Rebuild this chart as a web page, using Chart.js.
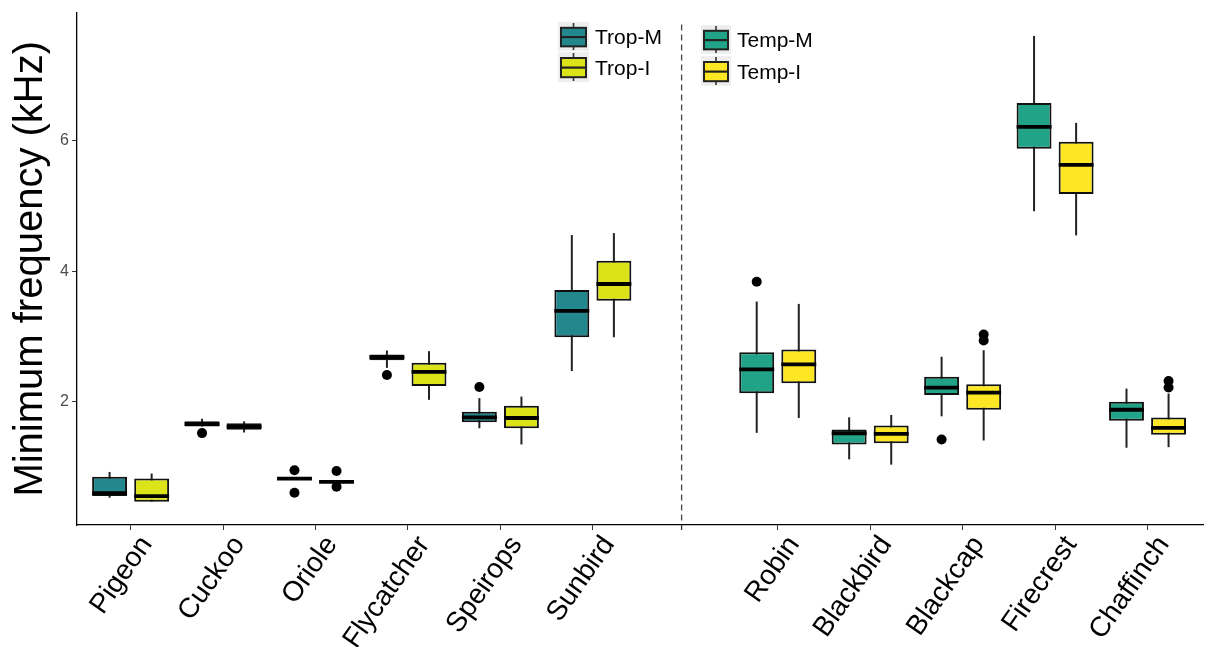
<!DOCTYPE html>
<html>
<head>
<meta charset="utf-8">
<script src="https://cdn.jsdelivr.net/npm/chart.js@4.4.0/dist/chart.umd.min.js"></script>
<style>
  html, body { margin: 0; padding: 0; background: #fff; }
  #wrap { width: 1205px; height: 647px; }
</style>
</head>
<body>
<div id="wrap"><canvas id="mychart"></canvas></div>
<script>
let species = ['Pigeon', 'Cuckoo', 'Oriole', 'Flycatcher', 'Speirops', 'Sunbird',
               'Robin', 'Blackbird', 'Blackcap', 'Firecrest', 'Chaffinch']
let xPos = [0, 1, 2, 3, 4, 5, 7, 8, 9, 10, 11]
let dividerX = 5.96
let yTicks = [2, 4, 6]

// migrant (M) boxes
let minM = [0.53, 1.62, 0.815, 2.52, 1.594, 2.471, 1.524, 1.118, 1.777, 4.92, 1.296]
let q1M  = [0.555, 1.62, 0.815, 2.638, 1.686, 2.989, 2.132, 1.346, 2.106, 5.878, 1.711]
let medM = [0.60, 1.66, 0.822, 2.684, 1.762, 3.394, 2.497, 1.518, 2.218, 6.213, 1.878]
let q3M  = [0.85, 1.70, 0.83, 2.725, 1.848, 3.714, 2.76, 1.574, 2.385, 6.578, 2.0]
let maxM = [0.925, 1.74, 0.83, 2.786, 2.056, 4.555, 3.536, 1.762, 2.69, 7.607, 2.202]
let outM = [[], [1.52], [0.95, 0.605], [2.41], [2.228], [], [3.84], [], [1.422], [], []]

// resident (I) boxes
let minI = [0.469, 1.53, 0.77, 2.03, 1.346, 2.989, 1.752, 1.037, 1.407, 4.55, 1.305]
let q1I  = [0.469, 1.57, 0.77, 2.243, 1.594, 3.547, 2.284, 1.366, 1.878, 5.183, 1.494]
let medI = [0.555, 1.62, 0.773, 2.46, 1.752, 3.805, 2.573, 1.509, 2.142, 5.63, 1.60]
let q3I  = [0.824, 1.67, 0.78, 2.598, 1.94, 4.16, 2.80, 1.635, 2.27, 5.985, 1.761]
let maxI = [0.90, 1.70, 0.78, 2.776, 2.08, 4.585, 3.50, 1.798, 2.79, 6.274, 2.126]
let outI = [[], [], [0.94, 0.697], [], [], [], [], [], [3.03, 2.94], [], [2.319, 2.218]]

let legendTrop = ['Trop-M', 'Trop-I']
let legendTemp = ['Temp-M', 'Temp-I']
let colTrop = ['#23888E', '#DCE319']
let colTemp = ['#20A387', '#FDE725']

const FONT = '"Liberation Sans", Arial, Helvetica, sans-serif'

let series = [
  { min: minM, med: medM, max: maxM, out: outM },
  { min: minI, med: medI, max: maxI, out: outI }
]

function colorsFor(k) {
  return xPos.map((x, i) => i < 6 ? colTrop[k] : colTemp[k])
}

function drawKey(ctx, x, y, w, h, fill) {
  ctx.fillStyle = '#EEEEEE'
  ctx.fillRect(x, y, w, h)
  let cx = x + w / 2
  ctx.strokeStyle = '#333'
  ctx.lineWidth = 1.6
  ctx.beginPath(); ctx.moveTo(cx, y + 1); ctx.lineTo(cx, y + h - 1); ctx.stroke()
  let bt = y + h * 0.2, bh = h * 0.64
  ctx.fillStyle = fill
  ctx.fillRect(x + 3, bt, w - 6, bh)
  ctx.strokeStyle = '#222'
  ctx.lineWidth = 2
  ctx.strokeRect(x + 3, bt, w - 6, bh)
  ctx.lineWidth = 2.2
  ctx.beginPath(); ctx.moveTo(x + 3, bt + bh / 2); ctx.lineTo(x + w - 3, bt + bh / 2); ctx.stroke()
}

const boxParts = {
  id: 'boxParts',
  beforeDatasetsDraw(chart) {
    let { ctx, chartArea, scales: { x, y } } = chart
    ctx.save()
    // dashed divider between tropical and temperate
    let xd = x.getPixelForValue(dividerX)
    ctx.strokeStyle = '#444'
    ctx.lineWidth = 1.3
    ctx.setLineDash([6, 4])
    ctx.beginPath(); ctx.moveTo(xd, chartArea.top + 12); ctx.lineTo(xd, chartArea.bottom); ctx.stroke()
    ctx.setLineDash([])
    ctx.strokeStyle = '#333'
    ctx.beginPath(); ctx.moveTo(xd, chartArea.bottom); ctx.lineTo(xd, chartArea.bottom + 5); ctx.stroke()
    // whiskers
    ctx.strokeStyle = '#222'
    ctx.lineWidth = 2
    series.forEach((s, d) => {
      chart.getDatasetMeta(d).data.forEach((bar, i) => {
        ctx.beginPath()
        ctx.moveTo(bar.x, y.getPixelForValue(s.min[i]))
        ctx.lineTo(bar.x, y.getPixelForValue(s.max[i]))
        ctx.stroke()
      })
    })
    ctx.restore()
  },
  afterDatasetsDraw(chart) {
    let { ctx, scales: { y } } = chart
    ctx.save()
    series.forEach((s, d) => {
      chart.getDatasetMeta(d).data.forEach((bar, i) => {
        let py = y.getPixelForValue(s.med[i])
        ctx.strokeStyle = '#000'
        ctx.lineWidth = 3.8
        ctx.beginPath()
        ctx.moveTo(bar.x - bar.width / 2, py)
        ctx.lineTo(bar.x + bar.width / 2, py)
        ctx.stroke()
        ctx.fillStyle = '#000'
        s.out[i].forEach(v => {
          ctx.beginPath()
          ctx.arc(bar.x, y.getPixelForValue(v), 5, 0, Math.PI * 2)
          ctx.fill()
        })
      })
    })
    ctx.restore()
  },
  afterDraw(chart) {
    let ctx = chart.ctx
    ctx.save()
    ctx.font = '21px ' + FONT
    ctx.textBaseline = 'middle'
    drawKey(ctx, 558, 22, 31, 29, colTrop[0])
    drawKey(ctx, 558, 52, 31, 30, colTrop[1])
    drawKey(ctx, 701, 25, 30, 29, colTemp[0])
    drawKey(ctx, 701, 56, 30, 30, colTemp[1])
    ctx.fillStyle = '#000'
    ctx.fillText(legendTrop[0], 595, 38)
    ctx.fillText(legendTrop[1], 595, 69)
    ctx.fillText(legendTemp[0], 737, 41)
    ctx.fillText(legendTemp[1], 737, 73)
    ctx.restore()
  }
}

let ctx = document.getElementById('mychart').getContext('2d')
let myChart = new Chart(ctx, {
  type: 'bar',
  data: {
    datasets: [
      {
        label: 'M',
        data: xPos.map((x, i) => ({ x: x, y: [q1M[i], q3M[i]] })),
        backgroundColor: colorsFor(0),
        borderColor: '#111',
        borderWidth: 2,
        borderSkipped: false
      },
      {
        label: 'I',
        data: xPos.map((x, i) => ({ x: x, y: [q1I[i], q3I[i]] })),
        backgroundColor: colorsFor(1),
        borderColor: '#111',
        borderWidth: 2,
        borderSkipped: false
      }
    ]
  },
  options: {
    maintainAspectRatio: false,
    responsive: true,
    animation: false,
    categoryPercentage: 0.91,
    barPercentage: 0.83,
    layout: { padding: { top: 9, right: 2, left: 0, bottom: 0 } },
    plugins: { legend: { display: false }, tooltip: { enabled: false } },
    scales: {
      x: {
        type: 'linear',
        offset: false,
        min: -0.58,
        max: 11.6,
        afterBuildTicks: scale => { scale.ticks = xPos.map(v => ({ value: v })) },
        afterFit: scale => { scale.height = 122 },
        grid: { offset: false, drawOnChartArea: false, drawTicks: true, tickLength: 5, color: '#333' },
        border: { display: true, color: '#000', width: 1.3 },
        ticks: {
          autoSkip: false,
          maxRotation: 55,
          minRotation: 55,
          padding: 0,
          labelOffset: 16,
          color: '#000',
          font: { size: 28, family: FONT },
          callback: v => species[xPos.indexOf(v)]
        }
      },
      y: {
        min: 0.112,
        max: 7.964,
        afterBuildTicks: scale => { scale.ticks = yTicks.map(v => ({ value: v })) },
        afterFit: scale => { scale.width = 77 },
        grid: { drawOnChartArea: false, drawTicks: true, tickLength: 5, color: '#333' },
        border: { display: true, color: '#000', width: 1.3 },
        ticks: { color: '#4D4D4D', padding: 3, font: { size: 16, family: FONT } },
        title: {
          display: true,
          text: 'Minimum frequency (kHz)',
          color: '#000',
          font: { size: 40, family: FONT },
          padding: { top: 7, bottom: 0 }
        }
      }
    }
  },
  plugins: [boxParts]
})
</script>
</body>
</html>
